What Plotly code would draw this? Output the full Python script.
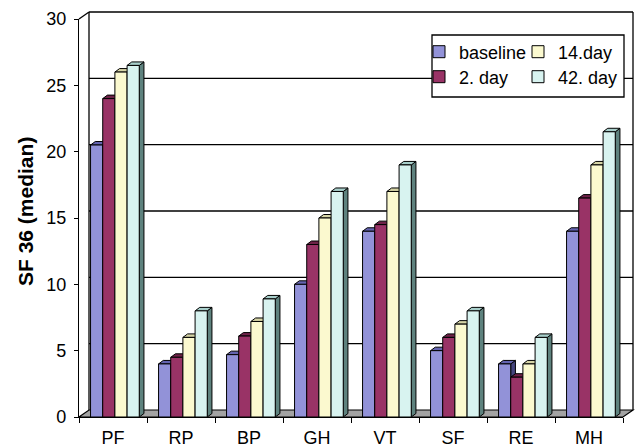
import plotly.graph_objects as go

categories = ["PF", "RP", "BP", "GH", "VT", "SF", "RE", "MH"]
series_names = ["baseline", "2. day", "14.day", "42. day"]
baseline = [20.5, 4.0, 4.7, 10.0, 14.0, 5.0, 4.0, 14.0]
day2 = [24.0, 4.5, 6.1, 13.0, 14.5, 6.0, 3.0, 16.5]
day14 = [26.0, 6.0, 7.2, 15.0, 17.0, 7.0, 4.0, 19.0]
day42 = [26.5, 8.0, 8.9, 17.0, 19.0, 8.0, 6.0, 21.5]
y_ticks = [0, 5, 10, 15, 20, 25, 30]

series = [baseline, day2, day14, day42]
front_colors = ["#9292D8", "#993366", "#FBF9CF", "#D8F3F0"]
cap_colors = ["#6464B0", "#6E2248", "#D6D4A6", "#A8CFCB"]
side_colors = ["#45457E", "#4E1733", "#9C9A74", "#5E827E"]

W, H = 636, 448
L, R, T, B = 79, 623, 19, 417
WX, WY = 10, 7  # wall depth offset in px


def px(xp):
    return (xp - L) / (R - L)


def py(yp):
    return (B - yp) / (B - T)


fig = go.Figure()

bar_w = 0.179
start = -0.33
x_idx = list(range(len(categories)))
legend_ids = ["legend", "legend2", "legend3", "legend4"]
for i, (name, vals) in enumerate(zip(series_names, series)):
    fig.add_trace(go.Bar(
        x=x_idx, y=vals, name=name,
        offset=start + i * bar_w, width=bar_w,
        marker=dict(color=front_colors[i], line=dict(color="black", width=1)),
        legend=legend_ids[i],
    ))

shapes = []
line_k = dict(color="black", width=1.3)
# floor
shapes.append(dict(type="path", xref="paper", yref="paper", layer="below",
                   path=f"M {px(L)},{py(B)} L {px(R)},{py(B)} L {px(R+WX)},{py(B-WY)} L {px(L+WX)},{py(B-WY)} Z",
                   fillcolor="#A3A3A3", line=dict(color="black", width=1.2)))
# back wall
shapes.append(dict(type="line", xref="paper", yref="paper", layer="below",
                   x0=px(L+WX), y0=py(B-WY), x1=px(L+WX), y1=py(T-WY), line=line_k))
shapes.append(dict(type="line", xref="paper", yref="paper", layer="below",
                   x0=px(L+WX), y0=py(T-WY), x1=px(R+WX), y1=py(T-WY), line=line_k))
shapes.append(dict(type="line", xref="paper", yref="paper", layer="below",
                   x0=px(R+WX), y0=py(T-WY), x1=px(R+WX), y1=py(B-WY), line=line_k))
shapes.append(dict(type="line", xref="paper", yref="paper", layer="below",
                   x0=px(L), y0=py(T), x1=px(L+WX), y1=py(T-WY), line=line_k))
# gridlines on the back wall
for v in y_ticks[1:-1]:
    yy = v / 30 + WY / (B - T)
    shapes.append(dict(type="line", xref="paper", yref="paper", layer="below",
                       x0=px(L+WX), y0=yy, x1=px(R+WX), y1=yy, line=line_k))

# legend box
shapes.append(dict(type="rect", xref="paper", yref="paper", layer="below",
                   x0=px(432), y0=py(97), x1=px(624), y1=py(35),
                   fillcolor="white", line=dict(color="black", width=1.3)))

# 3D caps and sides of bars
ddx = 4.7 / ((R - L) / 8)
ddy = 3.5 / ((B - T) / 30)
for k in range(len(categories)):
    for i, vals in enumerate(series):
        l = k + start + i * bar_w
        r = l + bar_w
        t = vals[k]
        shapes.append(dict(type="path", xref="x", yref="y", layer="below",
                           path=f"M {r},0 L {r+ddx},{ddy} L {r+ddx},{t+ddy} L {r},{t} Z",
                           fillcolor=side_colors[i], line=dict(color="black", width=1)))
        shapes.append(dict(type="path", xref="x", yref="y", layer="below",
                           path=f"M {l},{t} L {r},{t} L {r+ddx},{t+ddy} L {l+ddx},{t+ddy} Z",
                           fillcolor=cap_colors[i], line=dict(color="black", width=1)))

font_main = "Liberation Sans, Arial, sans-serif"
legend_common = dict(
    bgcolor="rgba(0,0,0,0)", borderwidth=0,
    font=dict(family=font_main, size=18, color="black"),
    xanchor="left", yanchor="middle", orientation="v",
    itemclick=False, itemdoubleclick=False,
)
leg_x = [419, 419, 518, 518]
leg_y = [52, 77, 52, 77]
legends = {lid: dict(x=px(leg_x[i]), y=py(leg_y[i]), **legend_common) for i, lid in enumerate(legend_ids)}

fig.update_layout(
    width=W, height=H,
    margin=dict(l=L, r=W - R, t=T, b=H - B, pad=0, autoexpand=False),
    paper_bgcolor="white", plot_bgcolor="rgba(0,0,0,0)",
    barmode="overlay",
    showlegend=True,
    shapes=shapes,
    font=dict(family=font_main, size=18, color="black"),
    xaxis=dict(
        range=[-0.5, 7.5], tickmode="array", tickvals=x_idx, ticktext=categories,
        ticks="", showgrid=False, zeroline=False, automargin=False,
        showline=True, linecolor="black", linewidth=1.3,
        tickfont=dict(family=font_main, size=18, color="black"),
        ticklabelstandoff=4,
        minor=dict(tickmode="array", tickvals=[k - 0.5 for k in range(len(categories) + 1)],
                   ticks="outside", ticklen=5, tickcolor="black", tickwidth=1.3, showgrid=False),
    ),
    yaxis=dict(
        range=[0, 30], tickmode="array", tickvals=y_ticks,
        ticks="outside", ticklen=4, tickcolor="black", tickwidth=1.3,
        showgrid=False, zeroline=False, automargin=False,
        showline=True, linecolor="black", linewidth=1.3,
        tickfont=dict(family=font_main, size=18, color="black"),
        ticklabelstandoff=4,
    ),
    annotations=[dict(
        text="<b>SF 36 (median)</b>", textangle=-90, xref="paper", yref="paper",
        x=px(25), y=py(212), xanchor="center", yanchor="middle", showarrow=False,
        font=dict(family=font_main, size=21, color="black"),
    )],
    **legends,
)

fig.write_html("out.html", config={"displayModeBar": False},
               post_script="document.body.style.margin='0';document.body.style.overflow='hidden';")
